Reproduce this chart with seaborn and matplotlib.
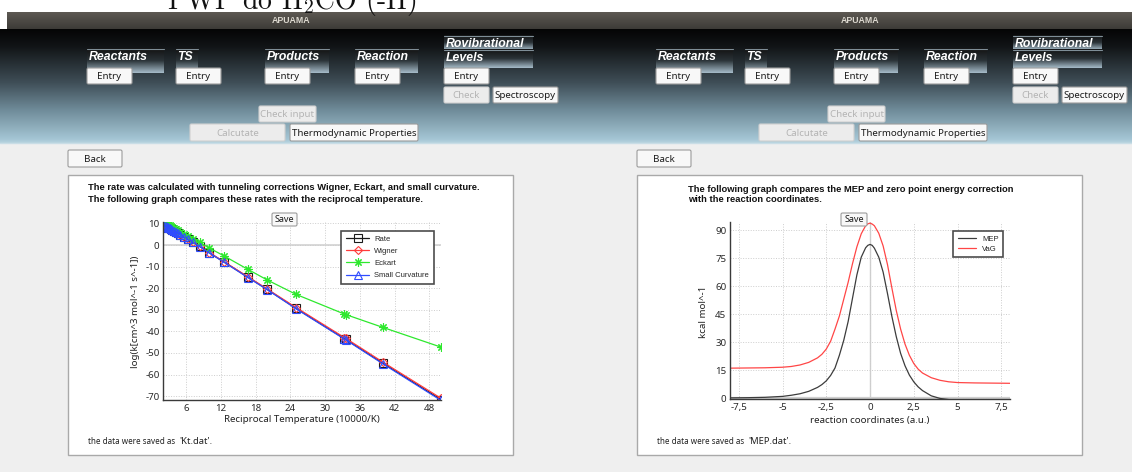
import numpy as np
import pandas as pd
import matplotlib
matplotlib.use("Agg")
import matplotlib.pyplot as plt
import matplotlib.colors as mcolors
import seaborn as sns
from matplotlib.patches import Rectangle, FancyBboxPatch
from matplotlib.ticker import MultipleLocator, FixedLocator, FixedFormatter

# ---------------- rate constants vs. reciprocal temperature ----------------
recip_temp = [2.0, 2.22, 2.5, 2.63, 2.78, 2.94, 3.13, 3.33, 3.57, 3.85, 4.17, 4.55, 5.0,
              5.56, 6.25, 7.14, 8.33, 10.0, 12.5, 16.67, 20.0, 25.0, 33.33, 33.54, 40.0, 50.0]
log_k_rate = [9.3, 9.0, 8.6, 8.4, 8.2, 8.0, 7.7, 7.4, 7.0, 6.6, 6.1, 5.5, 4.8,
              3.9, 2.8, 1.3, -0.6, -3.6, -7.8, -14.9, -20.6, -29.4, -43.4, -43.7, -54.8, -71.6]
log_k_wigner = [9.3, 9.0, 8.6, 8.4, 8.2, 8.0, 7.7, 7.4, 7.0, 6.6, 6.1, 5.5, 4.8,
                3.9, 2.8, 1.3, -0.5, -3.5, -7.7, -14.7, -20.4, -29.0, -42.9, -43.2, -54.3, -71.0]
log_k_eckart = [10.7, 10.4, 10.0, 9.8, 9.6, 9.4, 9.1, 8.8, 8.4, 8.0, 7.5, 6.9, 6.2,
                5.3, 4.3, 3.0, 1.2, -1.4, -5.0, -11.3, -16.2, -22.9, -32.0, -32.2, -38.2, -47.3]
log_k_sc = [9.3, 9.0, 8.6, 8.4, 8.2, 8.0, 7.7, 7.4, 7.0, 6.6, 6.1, 5.5, 4.8,
            3.9, 2.8, 1.3, -0.7, -3.7, -7.9, -15.1, -20.7, -29.6, -43.6, -43.9, -55.1, -72.0]
rate_xticks = [6, 12, 18, 24, 30, 36, 42, 48]
rate_yticks = [-70, -60, -50, -40, -30, -20, -10, 0, 10]

# ---------------- minimum energy path and adiabatic potential ----------------
reaction_coord = [-8, -7, -6, -5, -4.5, -4, -3.5, -3, -2.75, -2.5, -2.25, -2, -1.75, -1.5,
                  -1.25, -1, -0.75, -0.5, -0.25, -0.125, 0, 0.125, 0.25, 0.5, 0.75, 1, 1.25,
                  1.5, 1.75, 2, 2.25, 2.5, 2.75, 3, 3.5, 4, 4.5, 5, 6, 7, 8]
mep = [0.2, 0.3, 0.5, 1.0, 1.6, 2.4, 3.7, 5.8, 7.3, 9.3, 12.2, 16.2, 23.0, 31.0,
       41.0, 53.5, 66.0, 75.5, 80.5, 81.8, 82.3, 81.8, 80.3, 75.5, 67.5, 56.0, 43.8,
       33.0, 24.0, 17.4, 12.4, 8.8, 6.1, 4.1, 1.3, -0.1, -0.7, -0.9, -1.0, -1.0, -1.0]
vag = [16.1, 16.2, 16.3, 16.6, 17.0, 17.8, 19.2, 21.6, 23.5, 26.3, 30.5, 37.0, 44.0, 53.0,
       62.0, 72.0, 81.0, 88.0, 92.3, 93.3, 93.7, 93.2, 92.3, 88.3, 81.5, 71.5, 59.0,
       47.0, 37.0, 29.0, 23.0, 18.6, 15.6, 13.5, 11.0, 9.6, 8.8, 8.4, 8.2, 8.1, 8.0]
mep_xticks = [-7.5, -5, -2.5, 0, 2.5, 5, 7.5]
mep_xticklabels = ["-7,5", "-5", "-2,5", "0", "2,5", "5", "7,5"]
mep_yticks = [0, 15, 30, 45, 60, 75, 90]

sns.set_style("white")
plt.rcParams["font.family"] = ["Noto Sans", "DejaVu Sans"]
plt.rcParams["axes.unicode_minus"] = False
plt.rcParams["mathtext.fontset"] = "cm"

BOLD = ["Liberation Sans", "DejaVu Sans"]

W, H = 1132, 472
fig = plt.figure(figsize=(W / 100, H / 100), dpi=100)
fig.patch.set_facecolor("white")

bg = fig.add_axes([0, 0, 1, 1], zorder=0)
bg.set_autoscale_on(False)
bg.set_xlim(0, W)
bg.set_ylim(H, 0)
bg.axis("off")

top = fig.add_axes([0, 0, 1, 1], zorder=5)
top.set_autoscale_on(False)
top.set_xlim(0, W)
top.set_ylim(H, 0)
top.axis("off")
top.patch.set_alpha(0)


def vgrad(ax, x0, x1, y0, y1, stops, z=1):
    t = np.linspace(0, 1, 256)
    pos = [s[0] for s in stops]
    cols = np.array([mcolors.to_rgb(s[1]) for s in stops])
    img = np.stack([np.interp(t, pos, cols[:, i]) for i in range(3)], axis=-1)[:, None, :]
    ax.imshow(img, extent=(x0, x1, y1, y0), aspect="auto", interpolation="bilinear", zorder=z)


def button(ax, x0, x1, y0, y1, text, enabled=True, fs=7, z=6):
    fc = "#f8f8f8" if enabled else "#ececec"
    ec = "#9c9c9c" if enabled else "#d0d0d0"
    tc = "#1c1c1c" if enabled else "#b4b4b4"
    ax.add_patch(FancyBboxPatch((x0, y0), x1 - x0, y1 - y0,
                                boxstyle="round,pad=0,rounding_size=1.5",
                                fc=fc, ec=ec, lw=0.8, zorder=z))
    ax.text((x0 + x1) / 2, (y0 + y1) / 2 + 0.5, text, ha="center", va="center",
            fontsize=fs, color=tc, zorder=z + 1)


def header_label(x0, x1, y0, y1, text):
    vgrad(bg, x0, x1, y0, y1, [(0, "#111111"), (0.5, "#2b3338"), (1, "#a7bdca")], z=2)
    bg.plot([x0, x1], [y0 + 0.5, y0 + 0.5], color="#7f8e97", lw=0.8, zorder=3)
    bg.text(x0 + 1.5, y0 + 9, text, color="white", family=BOLD, fontweight="bold",
            fontstyle="italic", fontsize=8.8, ha="left", va="center", zorder=4)


# window background
bg.add_patch(Rectangle((0, 143), W, H - 143, fc="#efefef", ec="none", zorder=1))
vgrad(bg, 7, W, 12, 29, [(0, "#5d5953"), (1, "#3d3b37")], z=1)
vgrad(bg, 0, W, 29, 143, [(0, "#050505"), (0.15, "#111416"), (0.47, "#3f4e57"),
                          (0.71, "#6f8b99"), (0.97, "#a5c6d5"), (1, "#b8d4e0")], z=1)
bg.plot([0, W], [143, 143], color="#c9dde6", lw=1, zorder=2)

# slide heading partly visible above the windows
bg.text(167, 8.5, r"PWP do H$_2$CO (-H)", family="cmr10", fontsize=20, ha="left",
        va="baseline", color="#111111", zorder=3)

for ox in (0, 569):
    bg.text(291 + ox, 20.5, "APUAMA", color="#dcd8cf", family=BOLD, fontweight="bold",
            fontsize=6.3, ha="center", va="center", zorder=3)
    header_label(87 + ox, 164 + ox, 48, 73, "Reactants")
    header_label(176 + ox, 198 + ox, 48, 73, "TS")
    header_label(265 + ox, 329 + ox, 48, 73, "Products")
    header_label(355 + ox, 418 + ox, 48, 73, "Reaction")
    header_label(444 + ox, 533 + ox, 35, 50, "Rovibrational")
    header_label(444 + ox, 533 + ox, 49, 68, "Levels")
    for ex in (87, 176, 265, 355, 444):
        button(bg, ex + ox, ex + 45 + ox, 68, 84, "Entry")
    button(bg, 444 + ox, 489 + ox, 87, 103, "Check", enabled=False)
    button(bg, 493 + ox, 558 + ox, 87, 103, "Spectroscopy")
    button(bg, 259 + ox, 316 + ox, 106, 122, "Check input", enabled=False)
    button(bg, 190 + ox, 285 + ox, 124, 141, "Calcutate", enabled=False)
    button(bg, 290 + ox, 418 + ox, 124, 141, "Thermodynamic Properties")
    button(bg, 68 + ox, 122 + ox, 150, 167, "Back")
    bg.add_patch(Rectangle((68 + ox, 175), 445, 280, fc="white", ec="#a9a9a9", lw=1, zorder=3))

panel_kw = dict(family=BOLD, fontweight="bold", fontsize=6.75, ha="left", va="center",
                color="#111111", zorder=4)
bg.text(88, 188, "The rate was calculated with tunneling corrections Wigner, Eckart, and small curvature.", **panel_kw)
bg.text(88, 199, "The following graph compares these rates with the reciprocal temperature.", **panel_kw)
bg.text(688, 189, "The following graph compares the MEP and zero point energy correction", **panel_kw)
bg.text(688, 200, "with the reaction coordinates.", **panel_kw)

saved_kw = dict(ha="left", va="center", color="#222222", zorder=4)
bg.text(88, 441, "the data were saved as", fontsize=5.8, **saved_kw)
bg.text(179, 441, "'Kt.dat'.", fontsize=6.8, **saved_kw)
bg.text(657, 441, "the data were saved as", fontsize=5.8, **saved_kw)
bg.text(748, 441, "'MEP.dat'.", fontsize=6.8, **saved_kw)

button(top, 272, 297, 213, 226, "Save", fs=6.5)
button(top, 841, 867, 213, 226, "Save", fs=6.5)


def style_axes(ax):
    ax.set_facecolor("white")
    for side in ("top", "right"):
        ax.spines[side].set_visible(False)
    for side in ("left", "bottom"):
        ax.spines[side].set_color("#3a3a3a")
        ax.spines[side].set_linewidth(1.0)
    ax.tick_params(which="both", direction="in", color="#3a3a3a", labelsize=7,
                   labelcolor="#2a2a2a")
    ax.tick_params(which="major", length=4, width=0.8)
    ax.tick_params(which="minor", length=2, width=0.6)
    ax.tick_params(axis="y", pad=2.5)
    ax.tick_params(axis="x", pad=3)
    ax.grid(True, which="major", color="#cdcdcd", linestyle=(0, (1, 1.6)), lw=0.7)
    ax.set_axisbelow(True)


# ---------------- left chart: rate constants ----------------
axL = fig.add_axes([163 / W, (H - 400) / H, (441 - 163) / W, (400 - 221.7) / H], zorder=2)
style_axes(axL)
axL.axhline(0, color="#d6d6d6", lw=1.3, zorder=0.5)

rates = pd.DataFrame({"x": recip_temp, "Rate": log_k_rate, "Wigner": log_k_wigner,
                      "Eckart": log_k_eckart, "Small Curvature": log_k_sc})
series_style = [
    ("Rate", "#1a1a1a", "s", 5.2),
    ("Wigner", "#ff3b3b", "D", 4.2),
    ("Eckart", "#2ee82e", (8, 2, 0), 6.0),
    ("Small Curvature", "#2f4cff", "^", 5.2),
]
for name, col, mk, ms in series_style:
    sns.lineplot(data=rates, x="x", y=name, ax=axL, color=col, marker=mk, markersize=ms,
                 markerfacecolor="none", markeredgecolor=col, markeredgewidth=0.8,
                 linewidth=0.9, label=name)

axL.set_xlim(2, 50)
axL.set_ylim(-71.8, 10.8)
axL.xaxis.set_major_locator(FixedLocator(rate_xticks))
axL.yaxis.set_major_locator(FixedLocator(rate_yticks))
axL.xaxis.set_minor_locator(MultipleLocator(1.2))
axL.yaxis.set_minor_locator(MultipleLocator(2))
axL.set_xlabel("Reciprocal Temperature (10000/K)", fontsize=7, color="#222222", va="center")
axL.set_ylabel("log(k[cm^3 mol^-1 s^-1])", fontsize=7, color="#222222", va="center")
axL.xaxis.set_label_coords(0.5, -0.112)
axL.yaxis.set_label_coords(-0.10, 0.494)
legL = axL.legend(loc="upper right", bbox_to_anchor=(0.975, 0.95), borderaxespad=0,
                  handlelength=3.0, handletextpad=0.7, labelspacing=0.62,
                  borderpad=0.65, fancybox=False, framealpha=1, edgecolor="#4d4d4d",
                  prop={"family": ["Liberation Sans", "DejaVu Sans"], "size": 5.5})
legL.get_frame().set_linewidth(1.2)

# ---------------- right chart: MEP and VaG ----------------
axR = fig.add_axes([730 / W, (H - 399) / H, (1010 - 730) / W, (399 - 222) / H], zorder=2)
style_axes(axR)
axR.axvline(0, color="#cfcfcf", lw=1.0, zorder=0.5)
axR.axhline(0, color="#cfcfcf", lw=1.6, zorder=0.5)

path = pd.DataFrame({"s": reaction_coord, "MEP": mep, "VaG": vag})
sns.lineplot(data=path, x="s", y="MEP", ax=axR, color="#3c3c3c", linewidth=0.9, label="MEP")
sns.lineplot(data=path, x="s", y="VaG", ax=axR, color="#ff4646", linewidth=0.9, label="VaG")

axR.set_xlim(-8, 8)
axR.set_ylim(-0.4, 94.3)
axR.xaxis.set_major_locator(FixedLocator(mep_xticks))
axR.xaxis.set_major_formatter(FixedFormatter(mep_xticklabels))
axR.yaxis.set_major_locator(FixedLocator(mep_yticks))
axR.xaxis.set_minor_locator(MultipleLocator(0.5))
axR.yaxis.set_minor_locator(MultipleLocator(5))
axR.set_xlabel("reaction coordinates (a.u.)", fontsize=7, color="#222222", va="center")
axR.set_ylabel("kcal mol^-1", fontsize=7, color="#222222", va="center")
axR.xaxis.set_label_coords(0.5, -0.119)
axR.yaxis.set_label_coords(-0.093, 0.49)
legR = axR.legend(loc="upper right", bbox_to_anchor=(0.976, 0.951), borderaxespad=0,
                  handlelength=2.4, handletextpad=0.8, labelspacing=0.35,
                  borderpad=0.6, fancybox=False, framealpha=1, edgecolor="#4d4d4d",
                  prop={"family": ["Liberation Sans", "DejaVu Sans"], "size": 5.5})
legR.get_frame().set_linewidth(1.2)

fig.savefig("out.png", dpi=100)
